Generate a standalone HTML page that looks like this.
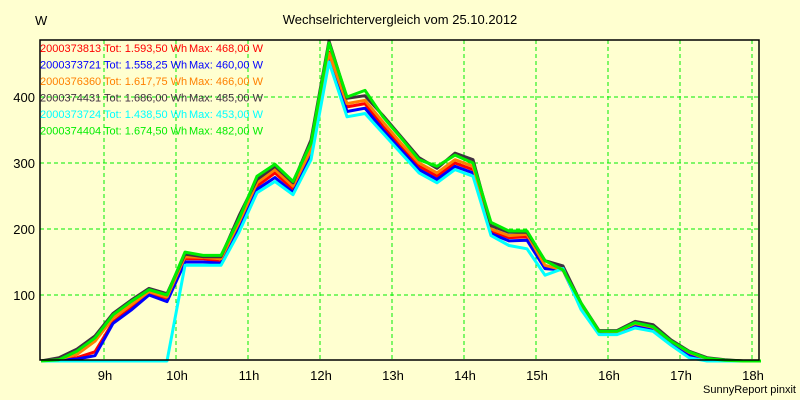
<!DOCTYPE html>
<html><head><meta charset="utf-8"><style>
html,body{margin:0;padding:0;background:#ffffd0;}
svg{display:block;font-family:"Liberation Sans",sans-serif;}
</style></head><body>
<svg id="chart" width="800" height="400">
<rect x="0" y="0" width="800" height="400" fill="#ffffd0"/>
<text x="400" y="24" font-size="13" text-anchor="middle">Wechselrichtervergleich vom 25.10.2012</text>
<text x="35" y="25" font-size="13">W</text>
<g id="grid"></g><g id="series"></g><g id="axes"></g><g id="legend"></g>
<text x="796" y="393" font-size="11" text-anchor="end">SunnyReport pinxit</text>
</svg>
<script>
const hourTicks=[9,10,11,12,13,14,15,16,17,18];
const yTicks=[100,200,300,400];
const t0=8.125, dt=0.25;
const names=["2000373813","2000373721","2000376360","2000374431","2000373724","2000374404"];
const totals=["1.593,50","1.558,25","1.617,75","1.686,00","1.438,50","1.674,50"];
const maxes=["468,00","460,00","466,00","485,00","453,00","482,00"];
const colors=["#ff0000","#0000ff","#ff8000","#403040","#00ffff","#00ee00"];
const sRed=[0,2,5,14,59,80,102,95,155,155,150,205,265,285,260,315,468,385,390,355,325,295,280,300,290,197,187,188,143,138,82,44,43,55,49,28,11,2,0,0,0];
const sBlue=[0,1,3,8,57,77,100,90,150,150,148,200,260,278,255,310,460,378,383,350,320,290,275,295,285,193,182,183,140,138,80,42,42,52,47,26,8,1,0,0,0];
const sOrange=[0,3,10,30,65,85,105,97,158,157,155,210,270,290,265,320,466,390,395,362,330,300,285,305,295,200,190,192,145,138,84,45,44,57,51,30,13,3,1,0,0];
const sDark=[0,5,18,38,72,92,110,102,162,158,158,220,275,295,270,335,485,398,402,372,340,308,292,315,305,205,195,195,152,144,88,46,46,60,55,32,15,5,2,0,0];
const sCyan=[0,0,0,0,0,0,0,0,145,145,145,195,255,272,252,305,453,370,375,345,315,285,270,290,280,190,175,170,130,140,78,40,40,50,45,24,5,0,0,0,0];
const sGreen=[0,2,15,35,70,90,108,100,165,160,160,215,280,298,272,330,482,400,410,370,338,305,295,312,300,210,197,197,152,138,88,45,45,58,52,30,14,4,1,0,0];
const seriesList=[sRed,sBlue,sOrange,sDark,sCyan,sGreen];
const X0=40,X1=759,Y0=360,YT=40;
const xs=h=>32+(h-8)*72;
const ys=v=>361-v*0.66;
const NS="http://www.w3.org/2000/svg";
function mk(tag,attrs,parent){const e=document.createElementNS(NS,tag);for(const k in attrs)e.setAttribute(k,attrs[k]);parent.appendChild(e);return e;}
const grid=document.getElementById('grid'),axes=document.getElementById('axes'),ser=document.getElementById('series'),leg=document.getElementById('legend');
yTicks.forEach(v=>{
 const l=mk('line',{x1:X0,x2:X1,y1:ys(v),y2:ys(v),stroke:'#00ee00','stroke-dasharray':'4,3'},grid);
 
 
 const t=mk('text',{x:35,y:ys(v)+5,'font-size':13,'text-anchor':'end'},axes);
 t.textContent=v;
 
 
});
hourTicks.forEach(h=>{
 const l=mk('line',{x1:xs(h),x2:xs(h),y1:YT,y2:Y0,stroke:'#00ee00','stroke-dasharray':'4,3'},grid);
 
 
 const t=mk('text',{x:xs(h)+1,y:380,'font-size':13,'text-anchor':'middle'},axes);
 t.textContent=h+'h';
 
 
});
const fr=mk('path',{d:`M${X0},${YT}H${X1}V${Y0}H${X0}Z`,fill:'none',stroke:'#000','stroke-width':1.5},axes);


seriesList.forEach((s,i)=>{
 const pts=s.map((v,k)=>xs(t0+k*dt).toFixed(1)+','+ys(v).toFixed(1)).join(' ');
 const p=mk('polyline',{points:pts,fill:'none',stroke:colors[i],'stroke-width':3,'stroke-linejoin':'round'},ser);
 
 
});
names.forEach((n,i)=>{
 const y=52+i*16.5;
 const g=mk('g',{fill:colors[i],'font-size':11},leg);
 
 
 const a=mk('text',{x:40,y:y},g);a.textContent=n;
 const b=mk('text',{x:104,y:y},g);b.textContent='Tot: '+totals[i]+' Wh';
 const c=mk('text',{x:189,y:y},g);c.textContent='Max: '+maxes[i]+' W';
});
</script>
</body></html>
